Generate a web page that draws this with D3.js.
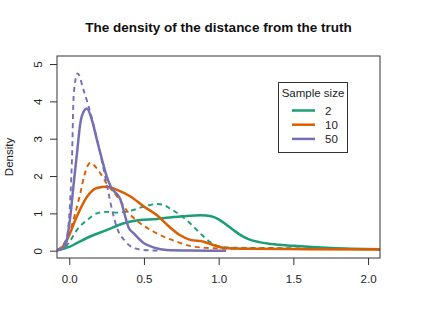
<!DOCTYPE html>
<html>
<head>
<meta charset="utf-8">
<script src="https://cdn.jsdelivr.net/npm/d3@7"></script>
<style>
    body { margin: 0; background: #fff; }
    svg { display: block; font-family: "Liberation Sans", Arial, Helvetica, sans-serif; }
</style>
</head>
<body>
<svg id="chart" width="437" height="330"></svg>
<script>

// values: [distance, density]
const green2Solid = [[-0.08,0.01],[0.0,0.1],[0.05,0.2],[0.14,0.38],[0.25,0.55],[0.36,0.73],[0.47,0.82],[0.59,0.85],[0.65,0.88],[0.76,0.92],[0.88,0.95],[0.95,0.92],[1.0,0.84],[1.05,0.7],[1.1,0.55],[1.15,0.41],[1.2,0.31],[1.27,0.23],[1.35,0.18],[1.5,0.13],[1.75,0.07],[2.08,0.04]];
const green2Dashed = [[-0.08,0.01],[-0.03,0.08],[0.01,0.29],[0.05,0.55],[0.12,0.82],[0.185,1.0],[0.25,1.04],[0.32,1.02],[0.41,1.07],[0.5,1.18],[0.59,1.25],[0.63,1.23],[0.67,1.14],[0.74,0.96],[0.81,0.73],[0.875,0.47],[0.94,0.24],[1.01,0.11],[1.1,0.08],[1.4,0.07],[1.7,0.05],[2.08,0.04]];
const orange10Solid = [[-0.08,0.01],[-0.05,0.08],[-0.015,0.29],[0.05,0.91],[0.12,1.45],[0.185,1.68],[0.25,1.71],[0.32,1.63],[0.41,1.45],[0.5,1.18],[0.59,0.94],[0.67,0.64],[0.74,0.42],[0.81,0.29],[0.9,0.24],[0.96,0.16],[1.03,0.08],[1.2,0.05],[1.6,0.04],[2.08,0.03]];
const orange10Dashed = [[-0.08,0.01],[-0.05,0.11],[0.0,0.47],[0.04,1.0],[0.074,1.54],[0.1,2.0],[0.14,2.35],[0.2,2.12],[0.25,1.8],[0.33,1.4],[0.4,1.0],[0.46,0.78],[0.56,0.52],[0.63,0.38],[0.72,0.24],[0.83,0.11],[0.94,0.07],[1.1,0.05],[1.5,0.05],[2.08,0.04]];
const purple50Solid = [[-0.08,0.01],[-0.03,0.1],[0.007,0.91],[0.03,1.8],[0.052,2.62],[0.074,3.41],[0.1,3.75],[0.118,3.81],[0.152,3.5],[0.185,2.97],[0.22,2.43],[0.25,2.0],[0.28,1.7],[0.34,1.4],[0.4,0.6],[0.43,0.47],[0.5,0.2],[0.57,0.08],[0.65,0.02],[0.8,0.005],[1.05,0.0]];
const purple50Dashed = [[-0.08,0.01],[-0.02,0.3],[0.018,2.43],[0.03,4.2],[0.056,4.75],[0.096,4.3],[0.13,3.86],[0.197,2.79],[0.25,1.8],[0.272,1.36],[0.317,0.64],[0.375,0.25],[0.44,0.06],[0.5,0.02],[0.6,0.0]];

const sampleSizes = ['2', '10', '50'];
const xTicks = [0, 0.5, 1, 1.5, 2];
const yTicks = [0, 1, 2, 3, 4, 5];

const colors = ['#1B9E77', '#D95F02', '#7570B3'];

const series = [
    { data: green2Solid,    color: colors[0], dashed: false },
    { data: green2Dashed,   color: colors[0], dashed: true  },
    { data: orange10Solid,  color: colors[1], dashed: false },
    { data: orange10Dashed, color: colors[1], dashed: true  },
    { data: purple50Dashed, color: colors[2], dashed: true  },
    { data: purple50Solid,  color: colors[2], dashed: false }
];

const LEFT = 57, RIGHT = 380, TOP = 56, BOTTOM = 258;

const svg = d3.select('#chart');

const x = d3.scaleLinear().domain([-0.082, 2.08]).range([LEFT, RIGHT]);
const y = d3.scaleLinear().domain([-0.196, 5.215]).range([BOTTOM, TOP]);

svg.append('clipPath').attr('id', 'plotClip')
    .append('rect')
    .attr('x', LEFT).attr('y', TOP)
    .attr('width', RIGHT - LEFT).attr('height', BOTTOM - TOP);

const line = d3.line()
    .x(d => x(d[0]))
    .y(d => y(d[1]))
    .curve(d3.curveMonotoneX);

svg.append('g').attr('clip-path', 'url(#plotClip)')
    .selectAll('path')
    .data(series)
    .join('path')
    .attr('d', d => line(d.data))
    .attr('fill', 'none')
    .attr('stroke', d => d.color)
    .attr('stroke-width', d => d.dashed ? 1.9 : 2.5)
    .attr('stroke-dasharray', d => d.dashed ? '5,4' : null)
    .attr('stroke-linejoin', 'round');

// axes
const xAxis = d3.axisBottom(x).tickValues(xTicks).tickSize(7).tickPadding(10)
    .tickFormat(d3.format('.1f'));
const gx = svg.append('g').attr('transform', `translate(0,${BOTTOM})`).call(xAxis)
    .attr('font-family', null).attr('font-size', 11.5);
gx.select('.domain').remove();
gx.selectAll('text').attr('fill', '#222');
gx.selectAll('line').attr('stroke', '#333');

const yAxis = d3.axisLeft(y).tickValues(yTicks).tickSize(7).tickFormat(d3.format('d'));
const gy = svg.append('g').attr('transform', `translate(${LEFT},0)`).call(yAxis)
    .attr('font-family', null).attr('font-size', 11.5);
gy.select('.domain').remove();
gy.selectAll('line').attr('stroke', '#333');
gy.selectAll('text')
    .attr('fill', '#222')
    .attr('x', null).attr('dy', '0')
    .attr('text-anchor', 'middle')
    .attr('transform', 'translate(-15,0) rotate(-90)');

// plot frame
svg.append('rect')
    .attr('x', LEFT).attr('y', TOP)
    .attr('width', RIGHT - LEFT).attr('height', BOTTOM - TOP)
    .attr('fill', 'none').attr('stroke', '#333').attr('stroke-width', 1);

// labels
svg.append('text')
    .attr('x', (LEFT + RIGHT) / 2).attr('y', 32)
    .attr('text-anchor', 'middle')
    .attr('font-size', 13.5).attr('font-weight', 'bold').attr('fill', '#111')
    .text('The density of the distance from the truth');

svg.append('text')
    .attr('transform', `translate(13,${(TOP + BOTTOM) / 2}) rotate(-90)`)
    .attr('text-anchor', 'middle')
    .attr('font-size', 11.5).attr('fill', '#222')
    .text('Density');

// legend
const legend = svg.append('g');
legend.append('rect')
    .attr('x', 278.5).attr('y', 82.5).attr('width', 69).attr('height', 70)
    .attr('fill', '#fff').attr('stroke', '#333');
legend.append('text')
    .attr('x', 313).attr('y', 97)
    .attr('text-anchor', 'middle')
    .attr('font-size', 11.5).attr('fill', '#222')
    .text('Sample size');

const items = legend.selectAll('g.item')
    .data(sampleSizes)
    .join('g')
    .attr('class', 'item')
    .attr('transform', (d, i) => `translate(0,${110.5 + i * 14.2})`);
items.append('line')
    .attr('x1', 292).attr('x2', 315)
    .attr('stroke', (d, i) => colors[i]).attr('stroke-width', 2.5);
items.append('text')
    .attr('x', 325).attr('y', 4)
    .attr('font-size', 11.5).attr('fill', '#222')
    .text(d => d);

</script>
</body>
</html>
